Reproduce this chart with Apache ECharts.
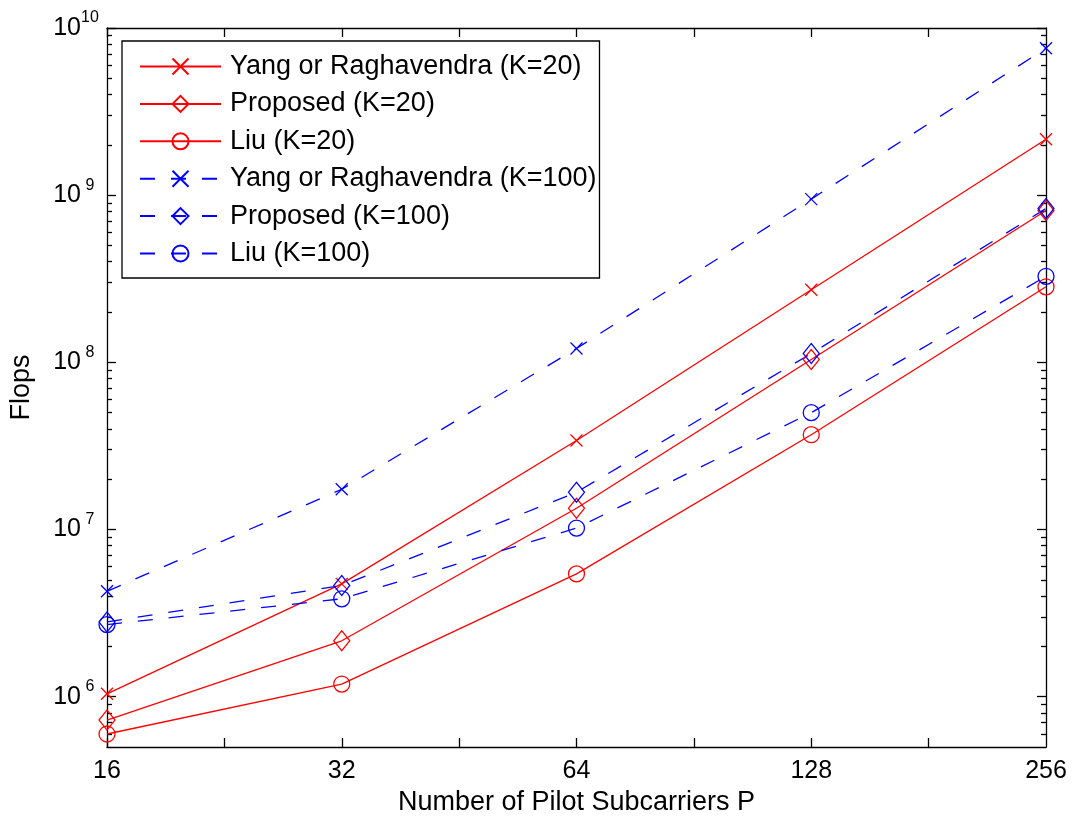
<!DOCTYPE html>
<html>
<head>
<meta charset="utf-8">
<title>Flops vs number of pilot subcarriers</title>
<script src="https://cdn.jsdelivr.net/npm/echarts@6/dist/echarts.min.js"></script>
<style>
  html, body { margin: 0; padding: 0; background: #fff; }
  #chart { width: 1078px; height: 821px; }
</style>
</head>
<body>
<div id="chart"></div>
<script>
// Number of pilot subcarriers P (x values)
const pilots = [16, 32, 64, 128, 256];

// Flop counts, K = 20
const yangK20     = [1.04e6, 4.73e6, 3.41e7, 2.72e8, 2.16e9];
const proposedK20 = [7.25e5, 2.16e6, 1.34e7, 1.04e8, 8.10e8];
const liuK20      = [5.98e5, 1.19e6, 5.43e6, 3.69e7, 2.83e8];

// Flop counts, K = 100
const yangK100     = [4.27e6, 1.74e7, 1.21e8, 9.47e8, 7.56e9];
const proposedK100 = [2.80e6, 4.62e6, 1.67e7, 1.13e8, 8.32e8];
const liuK100      = [2.70e6, 3.85e6, 1.02e7, 5.00e7, 3.27e8];

// Series names
const names = [
  'Yang or Raghavendra (K=20)',
  'Proposed (K=20)',
  'Liu (K=20)',
  'Yang or Raghavendra (K=100)',
  'Proposed (K=100)',
  'Liu (K=100)'
];

// Axis tick values
const xLabelTicks = [16, 32, 64, 128, 256];
const yDecades = [1e6, 1e7, 1e8, 1e9, 1e10];
const yMinor = [6e5, 7e5, 8e5, 9e5];
yDecades.slice(0, 4).forEach(d => { for (let k = 2; k <= 9; k++) yMinor.push(k * d); });
// half-octave ticks along the P axis
const xTicks = [];
for (let e = 8; e <= 16; e++) xTicks.push(Math.pow(Math.SQRT2, e));

const FONT = '"Liberation Sans", Arial, Helvetica, sans-serif';
const RED = '#ff0000';
const BLUE = '#0000ff';
const DASH = [15, 16];
const CROSS = 'path://M0,0L10,10M0,10L10,0';

function makeSeries(name, values, color, dashed, symbol, size) {
  return {
    name: name,
    type: 'line',
    data: pilots.map((p, i) => [p, values[i]]),
    symbol: symbol,
    symbolSize: size,
    showAllSymbol: true,
    clip: false,
    animation: false,
    color: color,
    lineStyle: { color: color, width: 1.3, type: dashed ? DASH : 'solid' },
    itemStyle: { color: 'transparent', borderColor: color, borderWidth: 1.3 },
    emphasis: { disabled: true }
  };
}

const axisLine = { show: true, lineStyle: { color: '#000', width: 1.3 } };
const tickStyle = { color: '#000', width: 1.3 };

const chart = echarts.init(document.getElementById('chart'), null, { renderer: 'canvas' });

chart.setOption({
  animation: false,
  backgroundColor: '#fff',
  textStyle: { fontFamily: FONT },
  grid: { left: 107, right: 32, top: 28, bottom: 74, containLabel: false },
  legend: {
    orient: 'vertical',
    left: 122,
    top: 41,
    padding: [12, 3, 11, 17],
    itemWidth: 81,
    itemHeight: 20,
    itemGap: 10.4,
    borderColor: '#000',
    borderWidth: 1.3,
    backgroundColor: '#fff',
    selectedMode: false,
    data: names,
    textStyle: { fontSize: 27, lineHeight: 26, color: '#000', fontFamily: FONT, padding: [0, 0, 0, 4] }
  },
  xAxis: [
    {
      type: 'log', logBase: 2, min: 16, max: 256, position: 'bottom',
      axisLine: axisLine,
      axisTick: { inside: true, length: 9, lineStyle: tickStyle, customValues: xTicks },
      axisLabel: {
        customValues: xLabelTicks, fontSize: 25, color: '#000', margin: 12,
        fontFamily: FONT, formatter: v => String(Math.round(v))
      },
      splitLine: { show: false },
      name: 'Number of Pilot Subcarriers P',
      nameLocation: 'middle',
      nameGap: 40,
      nameTextStyle: { fontSize: 27, color: '#000', fontFamily: FONT }
    },
    {
      type: 'log', logBase: 2, min: 16, max: 256, position: 'top',
      axisLine: axisLine,
      axisTick: { inside: true, length: 9, lineStyle: tickStyle, customValues: xTicks },
      axisLabel: { show: false },
      splitLine: { show: false }
    }
  ],
  yAxis: [
    {
      type: 'log', min: 5e5, max: 1e10, position: 'left',
      axisLine: axisLine,
      axisTick: { inside: true, length: 9, lineStyle: tickStyle, customValues: yDecades },
      axisLabel: {
        customValues: yDecades, margin: 8, color: '#000', fontFamily: FONT,
        formatter: v => '{b|10}{e|' + Math.round(Math.log10(v)) + '}',
        rich: {
          b: { fontSize: 25, color: '#000', fontFamily: FONT },
          e: { fontSize: 16, color: '#000', fontFamily: FONT, padding: [0, 0, 20, 0], width: 18, align: 'left' }
        }
      },
      splitLine: { show: false },
      name: 'Flops',
      nameLocation: 'middle',
      nameGap: 72,
      nameTextStyle: { fontSize: 27, color: '#000', fontFamily: FONT }
    },
    {
      type: 'log', min: 5e5, max: 1e10, position: 'left',
      axisLine: { show: false },
      axisTick: { inside: true, length: 5, lineStyle: tickStyle, customValues: yMinor },
      axisLabel: { show: false },
      splitLine: { show: false }
    },
    {
      type: 'log', min: 5e5, max: 1e10, position: 'right',
      axisLine: axisLine,
      axisTick: { inside: true, length: 9, lineStyle: tickStyle, customValues: yDecades },
      axisLabel: { show: false },
      splitLine: { show: false }
    },
    {
      type: 'log', min: 5e5, max: 1e10, position: 'right',
      axisLine: { show: false },
      axisTick: { inside: true, length: 5, lineStyle: tickStyle, customValues: yMinor },
      axisLabel: { show: false },
      splitLine: { show: false }
    }
  ],
  series: [
    makeSeries(names[0], yangK20, RED, false, CROSS, 12),
    makeSeries(names[1], proposedK20, RED, false, 'diamond', [16, 20]),
    makeSeries(names[2], liuK20, RED, false, 'circle', 16),
    makeSeries(names[3], yangK100, BLUE, true, CROSS, 12),
    makeSeries(names[4], proposedK100, BLUE, true, 'diamond', [16, 20]),
    makeSeries(names[5], liuK100, BLUE, true, 'circle', 16)
  ]
});
</script>
</body>
</html>
